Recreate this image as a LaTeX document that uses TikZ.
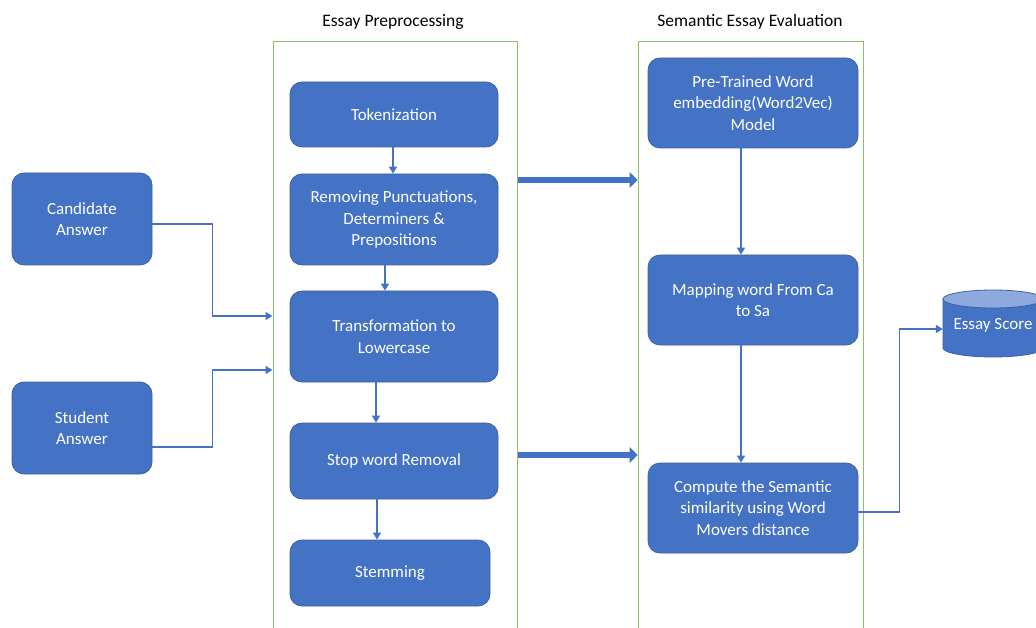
\documentclass[tikz,border=0pt]{standalone}
\usepackage{fontspec}
\setmainfont{Carlito}
\usetikzlibrary{arrows.meta,calc}
\definecolor{boxblue}{HTML}{4472C4}
\definecolor{boxedge}{HTML}{3A62A8}
\definecolor{topblue}{HTML}{8EA9DB}
\definecolor{framegreen}{HTML}{8CC168}
\begin{document}
\begin{tikzpicture}[x=1pt,y=-1pt,
  stepbox/.style={rectangle, rounded corners=12pt, fill=boxblue, draw=boxedge, line width=0.8pt,
    text=white, align=center, font=\fontsize{17}{21.5}\selectfont, inner sep=2pt},
  frame/.style={rectangle, draw=framegreen, line width=1pt, inner sep=0pt},
  title/.style={font=\fontsize{17.5}{20}\selectfont, text=black},
  conn/.style={draw=boxblue, line width=1.6pt, -{Triangle[width=8pt,length=7pt]}},
  bigconn/.style={draw=boxblue, line width=6pt, -{Triangle[width=16pt,length=8pt,line width=0pt]}}
]
\useasboundingbox (0,0) rectangle (1036,628);

% frames
\node[frame, minimum width=244pt, minimum height=618pt] (pre) at (395,351) {};
\node[frame, minimum width=225pt, minimum height=618pt] (eval) at (750.5,351) {};
\node[title] (pretitle) at (393,22) {Essay Preprocessing};
\node[title] (evaltitle) at (750,22) {Semantic Essay Evaluation};

% preprocessing boxes
\node[stepbox, minimum width=208pt, minimum height=65pt] (tok) at (394,114.5) {Tokenization};
\node[stepbox, minimum width=208pt, minimum height=91pt] (rem) at (394,219.5) {Removing Punctuations,\\Determiners \&\\Prepositions};
\node[stepbox, minimum width=208pt, minimum height=91pt] (trans) at (394,336.5) {Transformation to\\Lowercase};
\node[stepbox, minimum width=208pt, minimum height=76pt] (stop) at (394,461) {Stop word Removal};
\node[stepbox, minimum width=200pt, minimum height=66pt] (stem) at (390,573) {Stemming};

% inputs
\node[stepbox, minimum width=140pt, minimum height=92pt] (cand) at (82,219) {Candidate\\Answer};
\node[stepbox, minimum width=140pt, minimum height=92pt] (stud) at (82,428) {Student\\Answer};

% evaluation boxes
\node[stepbox, minimum width=210pt, minimum height=90pt] (w2v) at (753,103) {Pre-Trained Word\\embedding(Word2Vec)\\Model};
\node[stepbox, minimum width=210pt, minimum height=90pt] (map) at (753,300) {Mapping word From Ca\\to Sa};
\node[stepbox, minimum width=210pt, minimum height=90pt] (comp) at (753,508) {Compute the Semantic\\similarity using Word\\Movers distance};

% essay score cylinder
\fill[boxblue] (943,299) -- (943,348) arc[start angle=180,end angle=360,x radius=50pt,y radius=9pt] -- (1043,299) -- cycle;
\draw[boxedge, line width=0.8pt] (943,299) -- (943,348) arc[start angle=180,end angle=360,x radius=50pt,y radius=9pt] -- (1043,299);
\draw[boxedge, line width=0.8pt, fill=topblue] (993,299) ellipse[x radius=50pt, y radius=9pt];
\node[text=white, font=\fontsize{17}{20}\selectfont, minimum width=100pt, minimum height=48pt, inner sep=0pt] (score) at (993,325) {Essay Score};

% vertical connectors
\draw[conn] ([xshift=-1pt]tok.south) -- ([xshift=-1pt]rem.north);
\draw[conn] ([xshift=-9pt]rem.south) -- ([xshift=-9pt]trans.north);
\draw[conn] ([xshift=-18pt]trans.south) -- ([xshift=-18pt]stop.north);
\draw[conn] ([xshift=-17pt]stop.south) -- ([xshift=-13pt]stem.north);
\draw[conn] ([xshift=-12pt]w2v.south) -- ([xshift=-12pt]map.north);
\draw[conn] ([xshift=-12pt]map.south) -- ([xshift=-12pt]comp.north);

% input connectors
\coordinate (yA) at (0,316);
\coordinate (yB) at (0,370);
\draw[conn] ([yshift=-5pt]cand.east) -- ++(60,0) |- (pre.west |- yA);
\draw[conn] ([yshift=-19pt]stud.east) -- ++(60,0) |- (pre.west |- yB);

% big arrows
\coordinate (yC) at (0,180);
\coordinate (yD) at (0,455);
\draw[bigconn] (pre.east |- yC) -- (eval.west |- yC);
\draw[bigconn] (pre.east |- yD) -- (eval.west |- yD);

% score connector
\coordinate (yE) at (0,329);
\draw[conn] ([yshift=-4pt]comp.east) -- ++(41,0) |- (score.west |- yE);
\end{tikzpicture}
\end{document}
